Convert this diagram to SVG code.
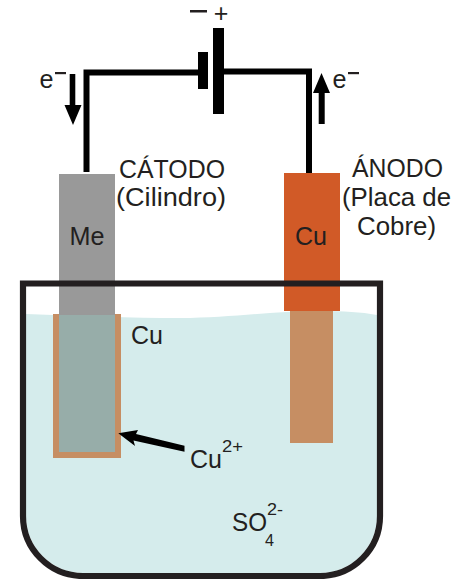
<svg xmlns="http://www.w3.org/2000/svg" width="465" height="579" viewBox="0 0 465 579">
<style>
text{font-family:"Liberation Sans",Arial,sans-serif;font-size:25px;fill:#231f20}
.s{font-size:17px}
.w{fill:none;stroke:#000;stroke-width:6}
</style>
<rect width="465" height="579" fill="#fff"/>
<g id="water"><path d="M26 314C80 316 130 318 180 318C230 318 270 311 320 311C345 311 360 312 377 315V516A57 57 0 0 1 320 573H83A57 57 0 0 1 26 516Z" fill="#d5ecec"/></g>
<g id="cathode">
<rect x="53" y="314" width="68" height="144" fill="#c68e63"/>
<rect x="59" y="314" width="56" height="138" fill="#97ada9"/>
<rect x="59" y="174" width="56" height="141" fill="#999"/>
<text x="87" y="245" text-anchor="middle" textLength="35" lengthAdjust="spacingAndGlyphs">Me</text>
</g>
<g id="anode">
<rect x="290" y="311" width="43" height="132" fill="#c68e63"/>
<rect x="284" y="173" width="56" height="138" fill="#d15a27"/>
<text x="311" y="245" text-anchor="middle" textLength="32" lengthAdjust="spacingAndGlyphs">Cu</text>
</g>
<g id="tank"><path d="M23 283.500H380V516A60 60 0 0 1 320 576H83A60 60 0 0 1 23 516Z" fill="none" stroke="#231f20" stroke-width="6.200"/></g>
<g id="connectors">
<path class="w" d="M86.500 172V72.500H198"/>
<path class="w" d="M224 71.500H309V173"/>
<path d="M69.700 74H75.300V105H81.500L73 125L64.500 105H69.700Z" fill="#000"/>
<path d="M318.700 124H324.700V93H330L321.500 73L313 93H318.700Z" fill="#000"/>
<path d="M184.500 445.700L136 434L138 430L118.300 433.300L135 446L133.500 440.500L184.500 451.700Z" fill="#000"/>
</g>
<g id="battery">
<rect x="198" y="52" width="10" height="37" fill="#000"/>
<rect x="213" y="28" width="11" height="86" fill="#000"/>
<rect x="190" y="10" width="17" height="2.500" fill="#231f20"/>
<text x="221" y="22" text-anchor="middle">+</text>
</g>
<g id="labels">
<text x="39.500" y="88" textLength="14" lengthAdjust="spacingAndGlyphs">e</text>
<rect x="55" y="72" width="11" height="2.200" fill="#231f20"/>
<text x="332.500" y="88" textLength="14" lengthAdjust="spacingAndGlyphs">e</text>
<rect x="348" y="72" width="11" height="2.200" fill="#231f20"/>
<text x="119" y="178" textLength="106" lengthAdjust="spacingAndGlyphs">CÁTODO</text>
<text x="116" y="206" textLength="110" lengthAdjust="spacingAndGlyphs">(Cilindro)</text>
<text x="352" y="177" textLength="91" lengthAdjust="spacingAndGlyphs">ÁNODO</text>
<text x="342" y="206" textLength="109" lengthAdjust="spacingAndGlyphs">(Placa de</text>
<text x="357" y="235" textLength="79" lengthAdjust="spacingAndGlyphs">Cobre)</text>
<text x="131" y="344" textLength="32" lengthAdjust="spacingAndGlyphs">Cu</text>
<text x="190" y="468" textLength="32" lengthAdjust="spacingAndGlyphs">Cu</text>
<text class="s" x="222" y="452" textLength="21" lengthAdjust="spacingAndGlyphs">2+</text>
<text x="232" y="531" textLength="35" lengthAdjust="spacingAndGlyphs">SO</text>
<text class="s" x="267" y="515" textLength="16" lengthAdjust="spacingAndGlyphs">2-</text>
<text class="s" x="265" y="546" textLength="9" lengthAdjust="spacingAndGlyphs">4</text>
</g>
</svg>
